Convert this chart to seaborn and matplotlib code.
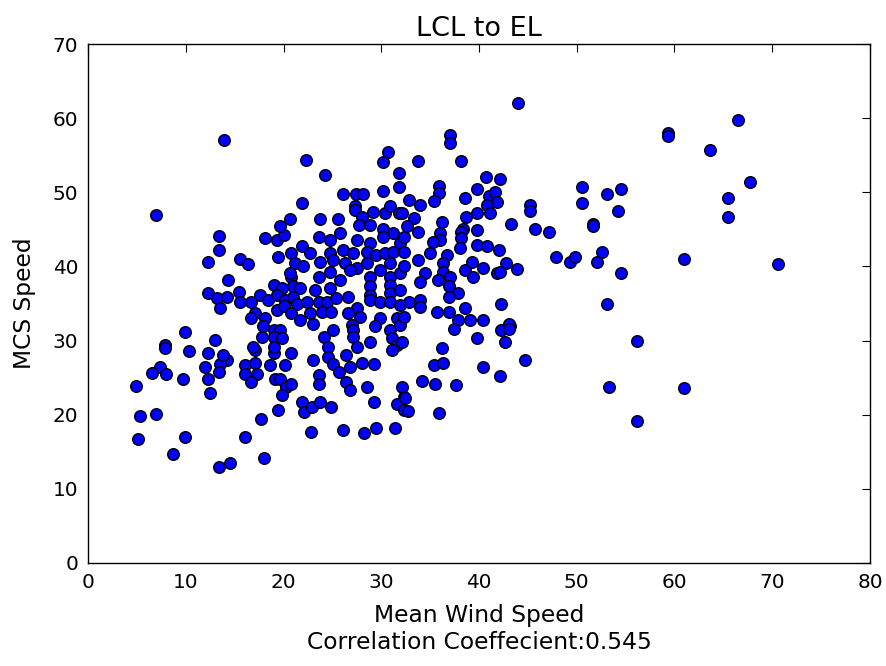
import matplotlib
matplotlib.use("Agg")
import matplotlib.pyplot as plt
import seaborn as sns
import pandas as pd

# Mean wind speed (x) and MCS speed (y)
wind_speed = [
    7.0, 9.95, 7.9, 7.9, 10.3, 7.4, 6.5, 8.0, 9.7, 4.9, 5.3, 7.0, 5.1, 9.9, 8.7,
    12.3, 14.2, 13.5, 12.0, 13.4, 12.3, 12.5, 16.1, 17.1, 17.3, 16.1, 16.7, 17.1, 19.0, 20.8,
    18.6, 20.2, 19.1, 19.6, 20.3, 19.8, 20.8, 19.4, 17.7, 16.1, 18.0, 14.5, 13.4,
    13.4, 13.4, 12.3, 15.5, 16.4, 18.1, 19.3, 20.0, 19.4, 20.8, 14.35, 12.3, 13.2, 14.2, 13.5,
    15.4, 15.55, 16.7, 17.6, 17.1, 18.1, 16.7, 19.0, 19.8, 19.3, 18.4, 20.15, 19.3, 20.0, 20.8,
    21.0, 20.8, 13.0, 16.9, 17.8, 19.0, 19.6, 17.9, 19.0, 19.8, 19.0, 13.8,
    13.9, 20.7, 19.6,
    22.3, 24.2, 30.7, 30.2, 31.85, 31.85, 30.2, 26.1, 27.4, 28.1, 21.9, 27.3, 27.3, 28.0, 29.2,
    30.4, 30.9, 31.85, 23.7, 25.6, 27.75, 28.8, 30.2, 25.8, 31.2,
    37.0, 37.0, 33.8, 38.2, 40.7, 42.1, 35.9, 35.9, 35.4, 32.8, 34.0, 39.8, 38.6, 41.0, 41.6,
    41.8, 40.85, 39.8, 41.1, 38.7, 33.3, 32.1, 36.2, 43.3, 32.6, 38.4, 39.8, 33.8,
    23.6, 24.8, 27.5, 28.8, 30.2, 31.9,
    21.9, 22.7, 24.8, 26.1, 27.1, 28.5, 29.5, 30.4, 31.2,
    21.2, 22.0, 23.7, 25.1, 26.3, 27.5, 28.5, 29.9, 30.9, 24.8, 23.6, 25.8, 28.8, 30.9, 31.9, 26.8,
    21.7, 23.2, 24.8, 26.6, 28.8, 28.8, 30.9, 30.9, 31.9, 21.0,
    21.35, 22.4, 23.6, 24.4, 25.4, 27.5, 28.8, 29.9, 30.9, 31.9, 22.7, 23.9, 24.9, 26.6, 27.8,
    21.7, 23.05, 25.1, 27.0, 27.1, 29.9, 29.4, 31.6, 30.9, 31.9, 24.1, 27.1, 28.8, 31.1, 31.6,
    24.6, 27.5, 20.7,
    36.0, 36.0, 35.3, 38.2, 38.2, 32.3, 32.3, 35.0, 36.7, 38.1, 39.8, 40.8, 42.0, 33.8, 32.3,
    36.35, 36.35, 38.6, 39.25, 40.4, 42.8, 41.8, 39.4, 34.5, 34.0, 35.8, 37.0, 36.9, 37.9, 36.9,
    32.8, 34.0, 34.0, 38.6, 42.3, 32.3, 35.7, 36.9, 37.9, 39.1, 40.4, 37.4, 39.8, 42.3, 43.2,
    42.7, 36.2, 32.1,
    23.0, 24.6, 25.1, 25.7, 26.4, 26.8, 28.0, 29.3, 31.1, 23.6, 23.6, 26.4, 26.8, 28.5, 32.1,
    32.3, 21.9, 22.1, 22.9, 23.7, 24.9, 29.3, 31.6, 22.8, 26.1, 28.2, 29.5, 31.4,
    35.4, 36.35, 40.4, 42.1, 34.2, 35.5, 37.6, 32.4, 32.3, 32.7, 35.9,
    44.0, 66.5, 59.3, 59.3, 63.6, 67.7, 50.5, 53.1, 54.5, 50.5, 54.25, 65.5, 65.5, 45.2, 45.2,
    45.7, 47.2, 51.7, 51.7, 43.9, 42.1, 47.9, 49.3, 49.8, 52.1, 52.6, 54.5, 61.0, 70.55,
    53.1, 43.1, 43.1, 44.7, 56.2, 53.3, 61.0, 56.2,
]
mcs_speed = [
    46.9, 31.2, 29.4, 29.0, 28.6, 26.5, 25.6, 25.5, 24.8, 23.9, 19.8, 20.1, 16.7, 17.0, 14.7,
    28.3, 27.4, 26.9, 26.5, 25.8, 24.8, 22.9, 26.7, 27.0, 25.5, 25.5, 24.4, 28.7, 28.3, 28.3,
    26.7, 26.7, 24.8, 24.8, 23.8, 22.7, 24.2, 20.7, 19.4, 17.0, 14.1, 13.5, 12.9,
    44.1, 42.2, 40.6, 41.0, 40.3, 43.8, 43.6, 44.2, 41.3, 41.8, 38.2, 36.4, 35.7, 35.9, 34.4,
    36.6, 35.2, 35.2, 36.1, 33.7, 33.1, 33.1, 37.5, 37.05, 36.1, 35.5, 35.5, 34.1, 34.6, 38.6,
    37.3, 33.7, 30.1, 29.2, 30.5, 31.4, 31.4, 31.9, 30.5, 30.3, 29.2, 28.05,
    57.0, 46.4, 45.4,
    54.4, 52.3, 55.5, 54.1, 52.6, 50.75, 50.2, 49.8, 49.8, 49.8, 48.5, 48.1, 47.6, 46.6, 47.4,
    47.25, 48.15, 47.25, 46.4, 46.4, 45.6, 45.6, 45.0, 44.5, 44.5,
    57.7, 56.7, 54.2, 54.2, 52.0, 51.75, 50.85, 49.9, 48.8, 49.0, 48.3, 50.4, 49.2, 49.5, 50.1,
    48.7, 48.3, 47.25, 47.25, 46.7, 46.5, 47.2, 46.0, 45.7, 45.4, 45.1, 44.9, 44.7,
    44.0, 43.6, 43.6, 43.1, 44.0, 43.1,
    42.7, 41.8, 41.8, 42.2, 41.8, 42.0, 41.5, 41.8, 42.0,
    40.4, 40.0, 40.6, 40.9, 40.4, 39.75, 40.4, 39.5, 40.4, 39.3, 38.6, 38.2, 38.6, 38.6, 39.1, 39.5,
    37.05, 36.8, 37.05, 35.9, 37.3, 36.1, 37.5, 36.4, 36.8, 35.9,
    35.0, 35.25, 35.25, 35.25, 35.7, 34.35, 35.5, 35.25, 35.25, 34.8, 33.7, 33.9, 33.9, 33.7, 33.2,
    32.8, 32.3, 31.4, 32.1, 31.4, 33.0, 31.9, 33.0, 31.4, 32.1, 30.5, 30.5, 29.85, 30.3, 29.4,
    29.2, 29.2, 39.1,
    44.5, 43.6, 43.3, 44.7, 43.8, 44.0, 42.0, 41.8, 41.5, 42.45, 42.9, 42.7, 42.2, 40.9, 40.0,
    40.4, 39.3, 39.5, 40.6, 39.75, 40.4, 39.1, 38.6, 39.1, 37.9, 38.2, 38.6, 37.3, 36.4, 35.9,
    35.25, 35.5, 34.5, 34.35, 35.0, 33.2, 33.8, 33.8, 32.8, 32.8, 32.8, 31.5, 30.3, 31.4, 31.9,
    29.85, 29.0, 29.85,
    27.4, 27.8, 26.8, 25.8, 28.05, 26.5, 27.0, 26.8, 28.7, 25.4, 24.2, 24.45, 23.4, 23.7, 23.7,
    22.4, 21.75, 20.4, 21.1, 21.75, 21.1, 21.75, 21.5, 17.7, 17.9, 17.6, 18.2, 18.2,
    26.7, 27.0, 26.5, 25.2, 24.6, 24.2, 24.0, 22.2, 20.7, 20.5, 20.2,
    62.1, 59.8, 58.0, 57.6, 55.7, 51.35, 50.75, 49.8, 50.4, 48.5, 47.5, 49.2, 46.6, 48.3, 47.5,
    45.1, 44.7, 45.7, 45.4, 39.6, 39.2, 41.3, 40.6, 41.3, 40.6, 41.9, 39.1, 41.0, 40.3,
    35.0, 32.3, 31.5, 27.4, 29.9, 23.7, 23.6, 19.2,
]

title = "LCL to EL"
x_label = "Mean Wind Speed\nCorrelation Coeffecient:0.545"
y_label = "MCS Speed"

df = pd.DataFrame({"wind": wind_speed, "mcs": mcs_speed})

sns.set_style("white")
plt.rcParams["font.family"] = ["DejaVu Sans"]
plt.rcParams["font.size"] = 14.4
plt.rcParams["text.color"] = "black"
plt.rcParams["axes.labelcolor"] = "black"
plt.rcParams["xtick.color"] = "black"
plt.rcParams["ytick.color"] = "black"

fig = plt.figure(figsize=(8.86, 6.66), dpi=100)
ax = fig.add_axes([88 / 886, 1 - 563 / 666, (870 - 88) / 886, (563 - 44) / 666])

sns.scatterplot(data=df, x="wind", y="mcs", ax=ax, color="#0000ff",
                edgecolor="black", linewidth=1.0, s=70, alpha=1.0, zorder=3)

ax.set_xlim(0, 80)
ax.set_ylim(0, 70)
ax.set_xticks(range(0, 81, 10))
ax.set_yticks(range(0, 71, 10))
ax.tick_params(direction="in", top=True, right=True, length=6, width=0.8,
               labelsize=14.4, colors="black", pad=7)
for sp in ax.spines.values():
    sp.set_visible(True)
    sp.set_color("black")
    sp.set_linewidth(1.0)

ax.set_title(title, fontsize=19.5, pad=6, color="black")
ax.set_xlabel(x_label, fontsize=16.8, labelpad=9, color="black")
ax.set_ylabel(y_label, fontsize=16.8, labelpad=12, color="black")

fig.savefig("out.png", dpi=100, facecolor="white")
